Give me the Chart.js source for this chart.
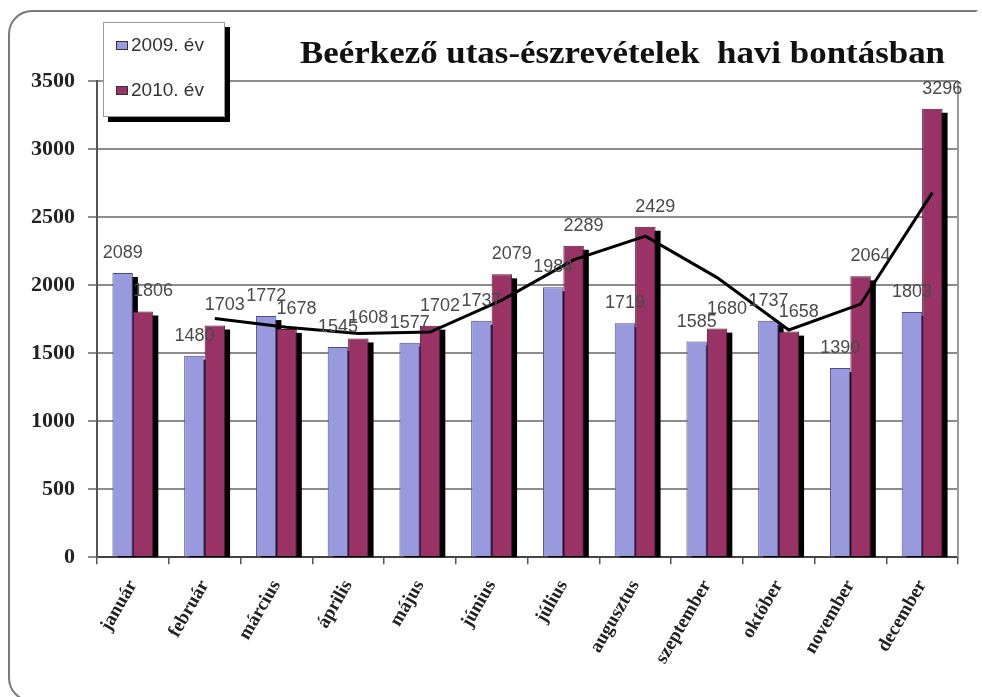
<!DOCTYPE html>
<html><head><meta charset="utf-8">
<script src="https://cdn.jsdelivr.net/npm/chart.js@4/dist/chart.umd.min.js"></script>
<style>
html,body{margin:0;padding:0;background:#fff;}
#wrap{position:relative;width:982px;height:697px;overflow:hidden;background:#fff;}
#frame{position:absolute;left:8px;top:10px;width:966px;height:688px;border:2px solid #7a7a7a;border-right-color:transparent;border-radius:24px 0 0 24px;}
canvas{position:absolute;left:0;top:0;}
#title{position:absolute;top:36px;left:300px;font:bold 32px "Liberation Serif","Times New Roman",serif;white-space:pre;color:#111;line-height:32px;transform-origin:0 0;display:inline-block;}
#legend{position:absolute;left:103px;top:22px;width:120px;height:93px;background:#fff;border:1px solid #9a9a9a;box-shadow:5px 5px 0 #000;font:19px "Liberation Sans",Arial,sans-serif;color:#333;}
.item{position:absolute;left:12px;display:flex;align-items:center;line-height:22px;}
.sw{width:10px;height:7px;border:1px solid #333;margin-right:3px;}
</style></head>
<body>
<div id="wrap">
  <div id="frame"></div>
  <canvas id="c" width="982" height="697"></canvas>
  <div id="title">Beérkező utas-észrevételek  havi bontásban</div>
  <div id="legend"></div>
</div>
<script>
const months = ['január','február','március','április','május','június','július','augusztus','szeptember','október','november','december'];
const seriesNames = ['2009. év','2010. év'];
const v2009 = [2089,1480,1772,1545,1577,1737,1984,1719,1585,1737,1390,1803];
const v2010 = [1806,1703,1678,1608,1702,2079,2289,2429,1680,1658,2064,3296];
const trend2010 = [null,1755,1690,1645,1655,1890,2185,2360,2055,1670,1860,2680];
const yTicks = [0,500,1000,1500,2000,2500,3000,3500];

const colors = ['#9999dd','#993366'];
const borders = ['#4c4c8c','#4d1a33'];

// HTML legend
const leg = document.getElementById('legend');
seriesNames.forEach((n,i)=>{
  const d = document.createElement('div');
  d.className='item';
  d.style.top = (i===0?11:56)+'px';
  d.innerHTML = '<span class="sw" style="background:'+colors[i]+'"></span><span>'+n+'</span>';
  leg.appendChild(d);
});

// title horizontal fit
const t = document.getElementById('title');
const tw = t.getBoundingClientRect().width;
t.style.transform = 'scaleX(' + (645/tw) + ')';

const barShadow = {
  id:'barShadow',
  beforeDatasetsDraw(chart){
    const {ctx, chartArea:a} = chart;
    ctx.save();
    ctx.beginPath(); ctx.rect(a.left, a.top, a.right-a.left, a.bottom-a.top); ctx.clip();
    ctx.fillStyle='#000';
    [0,1].forEach(di=>{
      chart.getDatasetMeta(di).data.forEach(el=>{
        const p = el.getProps(['x','y','base','width'], true);
        ctx.fillRect(p.x - p.width/2 + 5, p.y + 4, p.width, p.base - p.y);
      });
    });
    ctx.restore();
  }
};
const alignTrend = {
  id:'alignTrend',
  afterDatasetsUpdate(chart){
    const bm = chart.getDatasetMeta(1), lm = chart.getDatasetMeta(2);
    lm.data.forEach((p,i)=>{ if(bm.data[i]) p.x = bm.data[i].x; });
    if(lm.dataset) lm.dataset._path = undefined;
  }
};
const plotBorder = {
  id:'plotBorder',
  beforeDatasetsDraw(chart){
    const {ctx, chartArea:a} = chart;
    ctx.save(); ctx.strokeStyle='#9a9a9a'; ctx.lineWidth=2;
    ctx.beginPath(); ctx.moveTo(a.right,a.top); ctx.lineTo(a.right,a.bottom); ctx.stroke();
    ctx.restore();
  }
};
const valueLabels = {
  id:'valueLabels',
  afterDatasetsDraw(chart){
    const ctx=chart.ctx;
    ctx.save();
    ctx.font='18px "Liberation Sans", Arial, sans-serif';
    ctx.fillStyle='#4a4a4a'; ctx.textAlign='center'; ctx.textBaseline='middle';
    [0,1].forEach(di=>{
      const ds=chart.data.datasets[di], meta=chart.getDatasetMeta(di);
      meta.data.forEach((el,i)=>{
        ctx.fillText(String(ds.data[i]), el.x + (ds.labelShift||0), el.y - 20);
      });
    });
    ctx.restore();
  }
};

new Chart(document.getElementById('c'), {
  data:{
    labels: months,
    datasets:[
      {type:'bar', label:seriesNames[0], data:v2009, backgroundColor:colors[0], borderColor:borders[0], borderWidth:1, categoryPercentage:0.57, barPercentage:1.0, labelShift:0},
      {type:'bar', label:seriesNames[1], data:v2010, backgroundColor:colors[1], borderColor:borders[1], borderWidth:1, categoryPercentage:0.57, barPercentage:1.0, labelShift:10},
      {type:'line', label:'trend', data:trend2010, borderColor:'#000', borderWidth:3, pointRadius:0, tension:0, fill:false, order:-1}
    ]
  },
  options:{
    responsive:false, animation:false,
    layout:{padding:{left:18,right:24,top:81,bottom:17}},
    plugins:{legend:{display:false}, title:{display:false}, tooltip:{enabled:false}},
    scales:{
      x:{
        grid:{display:true, drawOnChartArea:false, drawTicks:true, tickLength:7, color:'#555', lineWidth:1.5, offset:true},
        border:{display:true, color:'#444', width:2},
        ticks:{maxRotation:60, minRotation:60, autoSkip:false, padding:12, color:'#222', font:{family:'Liberation Serif', size:19, weight:'bold'}}
      },
      y:{
        min:0, max:3500,
        afterBuildTicks(s){ s.ticks = yTicks.map(v=>({value:v})); },
        grid:{color:'#8c8c8c', lineWidth:2, tickLength:9, drawTicks:true},
        border:{display:true, color:'#555', width:2},
        ticks:{padding:13, color:'#222', font:{family:'Liberation Serif', size:22, weight:'bold'}, callback:v=>String(v)}
      }
    }
  },
  plugins:[barShadow, alignTrend, plotBorder, valueLabels]
});
</script>
</body></html>
